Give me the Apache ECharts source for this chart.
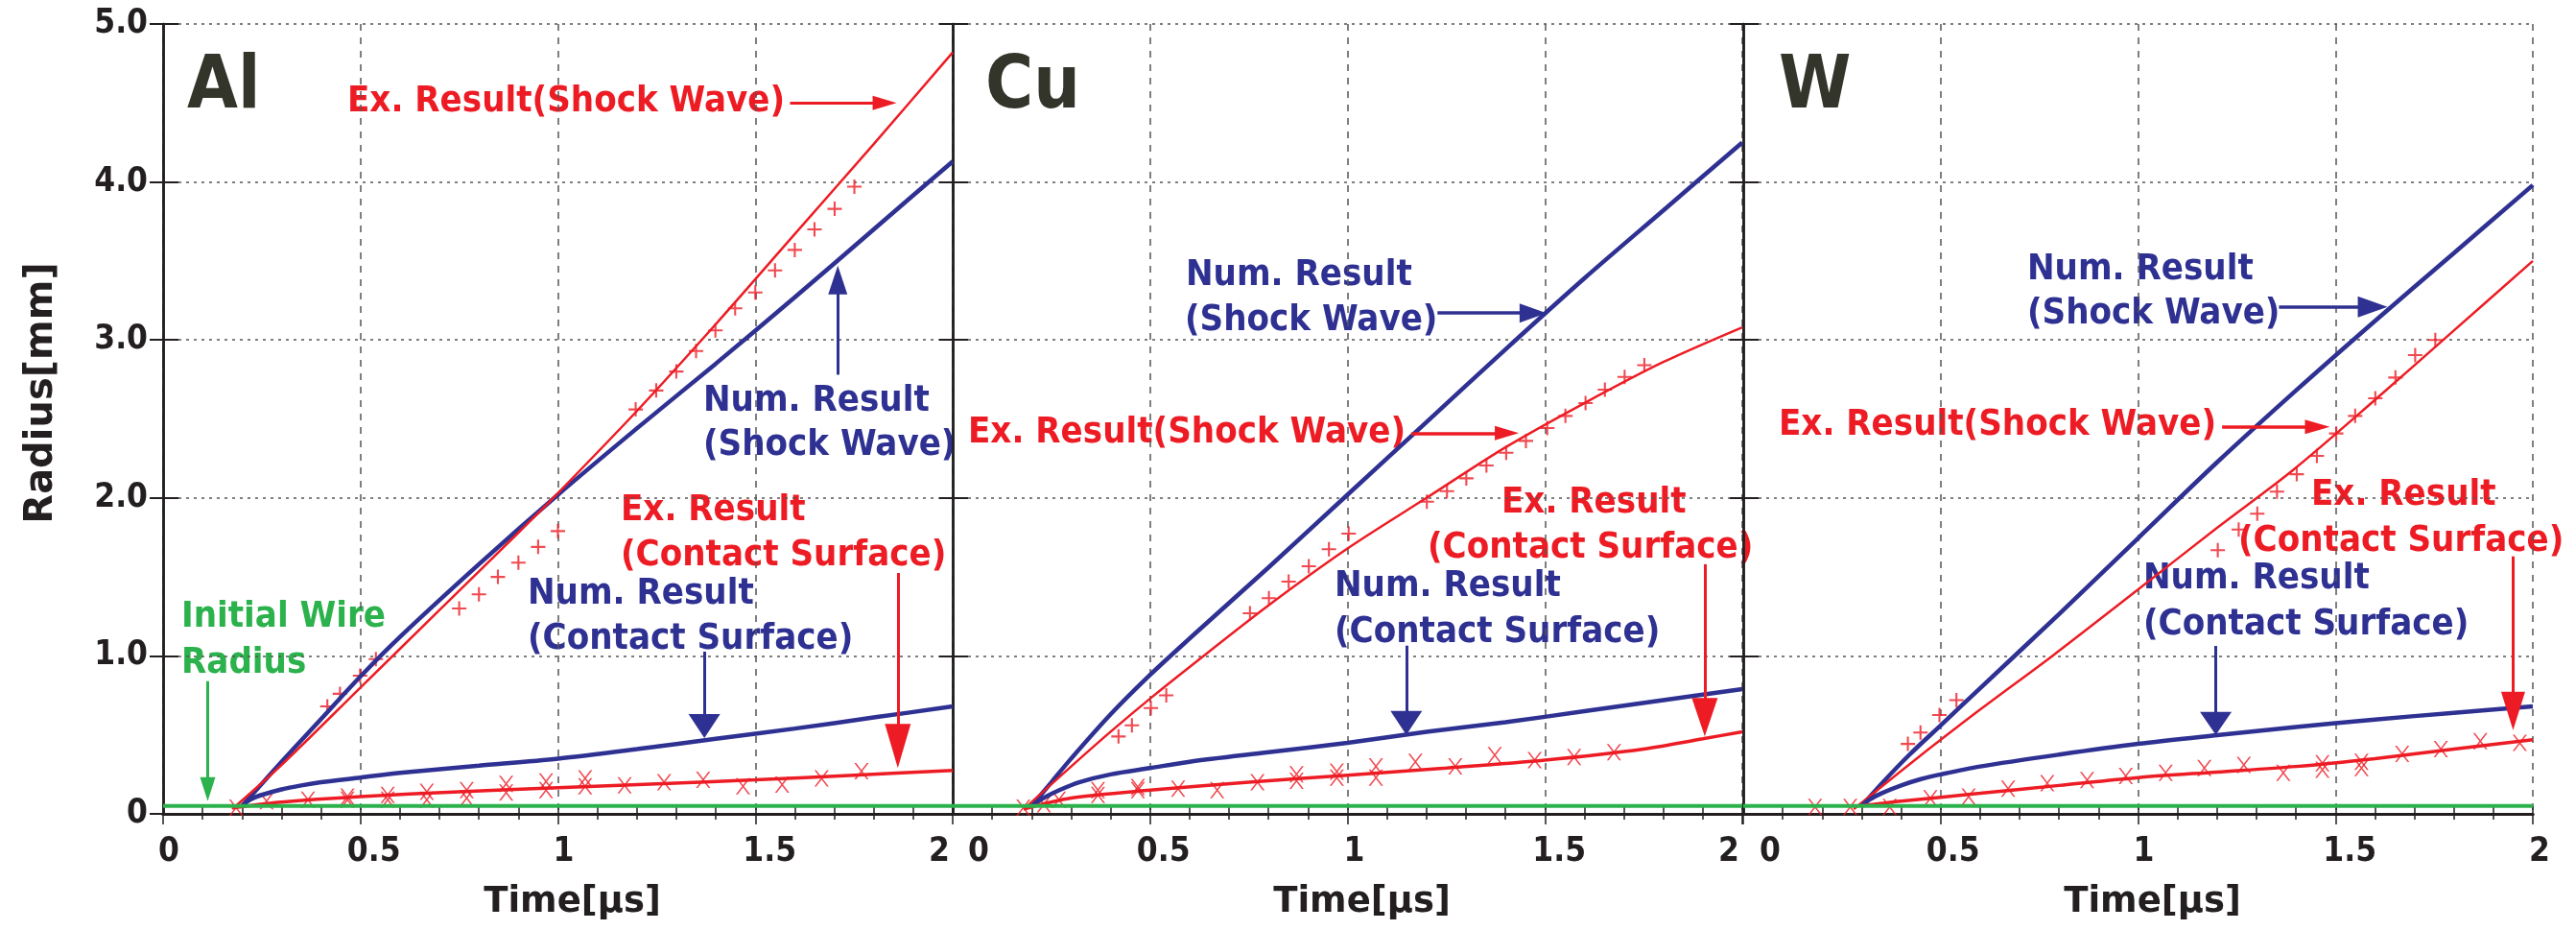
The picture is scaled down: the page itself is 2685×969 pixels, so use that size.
<!DOCTYPE html>
<html>
<head>
<meta charset="utf-8">
<title>Radius vs time: Al, Cu, W</title>
<script src="https://cdn.jsdelivr.net/npm/echarts@6.0.0/dist/echarts.min.js"></script>
<style>
  html, body { margin: 0; padding: 0; background: #fff; }
  #main { width: 2685px; height: 969px; }
</style>
</head>
<body>
<div id="main"></div>
<script>
;(function(){
	var FONT = "'DejaVu Sans Condensed', 'DejaVu Sans', sans-serif",
		WIDE = "'DejaVu Sans', sans-serif",
		BLUE = '#2e3192',
		RED = '#ed1c24',
		GREEN = '#2bb24c',
		INK = '#231f20';

	// axes
	var xTicks = [0, 0.5, 1, 1.5, 2];
	var yTicks = [0, 1, 2, 3, 4, 5];
	var initialWire = 0.05;
	var materials = ['Al', 'Cu', 'W'];

	// Al
	var alNumShock = [[0.2,0.05],[0.3,0.33],[0.4,0.6],[0.5,0.87],[0.6,1.12],[0.8,1.58],[1.0,2.02],[1.2,2.44],[1.4,2.85],[1.6,3.27],[1.8,3.7],[2.0,4.13]];
	var alExShock = [[0.175,0.03],[0.3,0.31],[0.5,0.8],[0.7,1.29],[0.9,1.78],[1.0,2.03],[1.2,2.55],[1.4,3.1],[1.6,3.67],[1.8,4.24],[2.0,4.82]];
	var alNumContact = [[0.2,0.05],[0.22,0.09],[0.25,0.12],[0.3,0.155],[0.35,0.18],[0.4,0.2],[0.5,0.23],[0.6,0.26],[0.8,0.305],[1.0,0.35],[1.2,0.41],[1.4,0.475],[1.6,0.54],[1.8,0.61],[2.0,0.68]];
	var alExContact = [[0.18,0.04],[0.3,0.075],[0.5,0.11],[0.75,0.14],[1.0,0.165],[1.25,0.19],[1.5,0.215],[1.75,0.245],[2.0,0.275]];
	var alShockPts = [[0.416,0.68],[0.448,0.76],[0.499,0.875],[0.539,0.98],[0.75,1.3],[0.8,1.39],[0.848,1.5],[0.9,1.59],[0.95,1.69],[1.0,1.79],[1.197,2.56],[1.249,2.68],[1.3,2.8],[1.35,2.93],[1.399,3.06],[1.449,3.2],[1.5,3.3],[1.55,3.44],[1.6,3.57],[1.65,3.7],[1.701,3.83],[1.751,3.97]];
	var alContactPts = [[0.185,0.04],[0.262,0.08],[0.367,0.09],[0.467,0.11],[0.467,0.09],[0.569,0.12],[0.569,0.09],[0.668,0.14],[0.668,0.09],[0.769,0.15],[0.769,0.1],[0.869,0.19],[0.869,0.135],[0.97,0.205],[0.97,0.15],[1.069,0.225],[1.069,0.175],[1.169,0.18],[1.269,0.2],[1.368,0.215],[1.469,0.175],[1.568,0.185],[1.668,0.225],[1.769,0.27]];

	// Cu
	var cuNumShock = [[0.2,0.05],[0.25,0.2],[0.3,0.35],[0.4,0.63],[0.5,0.88],[0.6,1.11],[0.8,1.56],[1.0,2.02],[1.2,2.48],[1.4,2.94],[1.6,3.39],[1.8,3.82],[2.0,4.25]];
	var cuExShock = [[0.18,0.03],[0.3,0.3],[0.4,0.52],[0.5,0.73],[0.6,0.93],[0.8,1.32],[1.0,1.68],[1.2,2.0],[1.4,2.32],[1.6,2.6],[1.8,2.86],[2.0,3.08]];
	var cuNumContact = [[0.2,0.05],[0.23,0.1],[0.27,0.15],[0.32,0.2],[0.4,0.25],[0.5,0.29],[0.6,0.33],[0.8,0.39],[1.0,0.45],[1.2,0.52],[1.4,0.58],[1.6,0.65],[1.8,0.72],[2.0,0.79]];
	var cuExContact = [[0.18,0.03],[0.3,0.1],[0.5,0.15],[0.75,0.2],[1.0,0.245],[1.25,0.29],[1.5,0.34],[1.75,0.41],[1.9,0.475],[2.0,0.52]];
	var cuShockPts = [[0.42,0.49],[0.454,0.56],[0.502,0.67],[0.541,0.75],[0.753,1.27],[0.801,1.365],[0.851,1.47],[0.902,1.567],[0.953,1.675],[1.003,1.774],[1.201,1.976],[1.252,2.043],[1.301,2.124],[1.352,2.205],[1.402,2.286],[1.452,2.361],[1.506,2.442],[1.552,2.519],[1.603,2.6],[1.652,2.685],[1.702,2.766],[1.752,2.84]];
	var cuContactPts = [[0.179,0.04],[0.231,0.06],[0.269,0.09],[0.368,0.15],[0.368,0.12],[0.469,0.17],[0.469,0.15],[0.571,0.16],[0.67,0.15],[0.772,0.2],[0.871,0.25],[0.871,0.21],[0.973,0.267],[0.973,0.23],[1.072,0.3],[1.072,0.23],[1.172,0.33],[1.273,0.3],[1.373,0.372],[1.474,0.34],[1.574,0.36],[1.675,0.39]];

	// W
	var wNumShock = [[0.3,0.05],[0.35,0.19],[0.42,0.372],[0.5,0.56],[0.6,0.795],[0.8,1.265],[1.0,1.745],[1.2,2.225],[1.4,2.68],[1.6,3.12],[1.8,3.55],[2.0,3.98]];
	var wExShock = [[0.28,0.03],[0.42,0.312],[0.6,0.66],[0.783,1.0],[1.0,1.42],[1.2,1.81],[1.392,2.175],[1.6,2.62],[1.8,3.06],[2.0,3.5]];
	var wNumContact = [[0.3,0.05],[0.32,0.09],[0.35,0.13],[0.4,0.18],[0.45,0.22],[0.5,0.25],[0.6,0.3],[0.8,0.375],[1.0,0.443],[1.2,0.498],[1.4,0.55],[1.6,0.597],[1.8,0.64],[2.0,0.68]];
	var wExContact = [[0.3,0.05],[0.4,0.08],[0.6,0.13],[0.8,0.18],[1.0,0.23],[1.2,0.265],[1.4,0.3],[1.6,0.35],[1.8,0.41],[2.0,0.47]];
	var wShockPts = [[0.417,0.443],[0.449,0.515],[0.497,0.626],[0.54,0.72],[1.202,1.669],[1.255,1.8],[1.302,1.9],[1.352,2.04],[1.402,2.15],[1.453,2.266],[1.502,2.408],[1.55,2.519],[1.601,2.631],[1.652,2.762],[1.702,2.904],[1.753,3.0]];
	var wContactPts = [[0.182,0.044],[0.271,0.044],[0.371,0.044],[0.474,0.099],[0.571,0.109],[0.671,0.16],[0.77,0.194],[0.871,0.214],[0.969,0.24],[1.07,0.26],[1.168,0.29],[1.268,0.31],[1.368,0.26],[1.467,0.32],[1.467,0.28],[1.566,0.33],[1.566,0.29],[1.669,0.38],[1.767,0.41],[1.867,0.46],[1.967,0.45]];

	// arrows: [x from, y from, x tip, y tip] in data units
	var alArrows = [[1.588,4.50,1.858,4.50],[1.709,2.78,1.709,3.47],[1.861,1.525,1.861,0.29],[1.371,1.027,1.371,0.48],[0.113,0.84,0.113,0.08]];
	var cuArrows = [[1.228,3.17,1.504,3.17],[1.162,2.41,1.434,2.41],[1.905,1.58,1.905,0.49],[1.149,1.065,1.149,0.50]];
	var wArrows = [[1.357,3.21,1.632,3.21],[1.213,2.45,1.486,2.45],[1.95,1.63,1.95,0.53],[1.197,1.063,1.197,0.50]];

	var panels = [
		{ numShock: alNumShock, exShock: alExShock, numContact: alNumContact, exContact: alExContact, shockPts: alShockPts, contactPts: alContactPts, arrows: alArrows },
		{ numShock: cuNumShock, exShock: cuExShock, numContact: cuNumContact, exContact: cuExContact, shockPts: cuShockPts, contactPts: cuContactPts, arrows: cuArrows },
		{ numShock: wNumShock, exShock: wExShock, numContact: wNumContact, exContact: wExContact, shockPts: wShockPts, contactPts: wContactPts, arrows: wArrows }
	];

	// arrow look per panel: colour, line width, head [width, length]
	var arrowStyle = [
		[[RED,3,[15,25]],[BLUE,3,[20,30]],[RED,3,[27,46]],[BLUE,3,[33,25]],[GREEN,3,[16,25]]],
		[[BLUE,3.5,[20,28]],[RED,3.5,[15,25]],[RED,3,[27,40]],[BLUE,3,[33,25]]],
		[[BLUE,3.5,[22,31]],[RED,3.5,[15,26]],[RED,3,[25,40]],[BLUE,3,[33,24]]]
	];

	// tick label nudges (px, + is right), the original labels sit a little off centre
	var labelShift = [[6,14,6,15,-14],[27,14,7,15,-14],[28,13,6,15,7]];

	// text annotations: text, left x, middle y, colour
	var notes = [
		['Ex. Result(Shock Wave)', 362, 106, RED],
		['Num. Result', 733, 418, BLUE], ['(Shock Wave)', 733, 464, BLUE],
		['Ex. Result', 647, 532, RED], ['(Contact Surface)', 647, 579, RED],
		['Num. Result', 550, 619, BLUE], ['(Contact Surface)', 550, 666, BLUE],
		['Initial Wire', 189, 643, GREEN], ['Radius', 189, 691, GREEN],
		['Num. Result', 1236, 287, BLUE], ['(Shock Wave)', 1235, 334, BLUE],
		['Ex. Result(Shock Wave)', 1009, 451, RED],
		['Ex. Result', 1565, 524, RED], ['(Contact Surface)', 1488, 571, RED],
		['Num. Result', 1391, 611, BLUE], ['(Contact Surface)', 1391, 659, BLUE],
		['Num. Result', 2113, 281, BLUE], ['(Shock Wave)', 2113, 327, BLUE],
		['Ex. Result(Shock Wave)', 1854, 443, RED],
		['Ex. Result', 2409, 516, RED], ['(Contact Surface)', 2333, 564, RED],
		['Num. Result', 2234, 603, BLUE], ['(Contact Surface)', 2234, 651, BLUE]
	];
	var tagPos = [[195, 92], [1027, 92], [1854, 92]];

	var PLUS = 'path://M4.3,0H5.7V10H4.3ZM0,4.3H10V5.7H0Z';
	var CROSS = 'path://M0,0H1.3L10,12H8.7ZM8.7,0H10L1.3,12H0Z';

	var gridLeft = [170, 993, 1817], gridW = 823, gridTop = 25, gridH = 823;

	var grids = [], xAxes = [], yAxes = [], series = [], graphics = [];

	panels.forEach(function(p, i){
		grids.push({ left: gridLeft[i], top: gridTop, width: gridW, height: gridH });

		var rich = {};
		xTicks.forEach(function(t, k){
			var s = labelShift[i][k];
			rich['s' + k] = {
				fontFamily: FONT, fontSize: 35, fontWeight: 'bold', color: INK,
				padding: s >= 0 ? [0, 0, 0, 2 * s] : [0, -2 * s, 0, 0]
			};
		});

		// bottom x axis
		xAxes.push({
			gridIndex: i, type: 'value', position: 'bottom',
			min: xTicks[0], max: xTicks[xTicks.length - 1], interval: 0.5,
			name: 'Time[\u03bcs]', nameLocation: 'middle', nameGap: 74,
			nameTextStyle: { fontFamily: WIDE, fontSize: 37, fontWeight: 'bold', color: INK, padding: [0, 0, 0, 30] },
			axisLine: { lineStyle: { color: INK, width: 3 } },
			axisTick: { inside: true, length: 8, lineStyle: { color: INK, width: 1.5 } },
			minorTick: { show: true, splitNumber: 5, length: 8, lineStyle: { color: INK, width: 1.5 } },
			axisLabel: {
				margin: 22, showMinLabel: true, showMaxLabel: true,
				formatter: function(v){ return '{s' + xTicks.indexOf(v) + '|' + v + '}'; },
				rich: rich
			},
			splitLine: { show: true, lineStyle: { color: '#555', width: 1.5, type: [7, 7] } }
		});
		// top x axis, frame only
		xAxes.push({
			gridIndex: i, type: 'value', position: 'top',
			min: xTicks[0], max: xTicks[xTicks.length - 1], interval: 0.5,
			axisLine: { lineStyle: { color: INK, width: 3 } },
			axisTick: { inside: true, length: 11, lineStyle: { color: INK, width: 1.5 } },
			minorTick: { show: true, splitNumber: 5, length: 6, lineStyle: { color: INK, width: 1.5 } },
			axisLabel: { show: false }, splitLine: { show: false }
		});
		// left y axis
		yAxes.push({
			gridIndex: i, type: 'value', position: 'left',
			min: yTicks[0], max: yTicks[yTicks.length - 1], interval: 1,
			name: i === 0 ? 'Radius[mm]' : '', nameLocation: 'middle', nameRotate: 90, nameGap: 106,
			nameTextStyle: { fontFamily: WIDE, fontSize: 40, fontWeight: 'bold', color: INK, padding: [0, 0, 0, 54] },
			axisLine: { lineStyle: { color: INK, width: 2.5 } },
			axisTick: { inside: true, length: 16, lineStyle: { color: INK, width: 2 } },
			axisLabel: {
				show: i === 0, margin: 16, fontFamily: FONT, fontSize: 35, fontWeight: 'bold', color: INK,
				formatter: function(v){ return v === 0 ? '0' : v.toFixed(1); }
			},
			splitLine: { show: true, lineStyle: { color: '#555', width: 1.5, type: [3, 5] } }
		});
		// right y axis, frame only
		yAxes.push({
			gridIndex: i, type: 'value', position: 'right',
			min: yTicks[0], max: yTicks[yTicks.length - 1], interval: 1,
			axisLine: { lineStyle: { color: INK, width: 2.5 } },
			axisTick: { inside: true, length: 14, lineStyle: { color: INK, width: 2 } },
			axisLabel: { show: false }, splitLine: { show: false }
		});

		var xi = i * 2, yi = i * 2;
		var line = function(data, color, width){
			return {
				type: 'line', xAxisIndex: xi, yAxisIndex: yi, data: data,
				showSymbol: false, smooth: 0.3, silent: true,
				lineStyle: { color: color, width: width }
			};
		};
		var marks = function(data, symbol, size){
			return {
				type: 'scatter', xAxisIndex: xi, yAxisIndex: yi, data: data,
				symbol: symbol, symbolSize: size, silent: true,
				itemStyle: { color: RED }
			};
		};
		series.push(line(p.numShock, BLUE, 4.5));
		series.push(line(p.exShock, RED, 2.5));
		series.push(line(p.numContact, BLUE, 4.5));
		series.push(line(p.exContact, RED, 3.5));
		series.push(marks(p.shockPts, PLUS, 15));
		series.push(marks(p.contactPts, CROSS, [15, 17]));
		series.push({
			type: 'line', xAxisIndex: xi, yAxisIndex: yi, silent: true,
			data: [[xTicks[0], initialWire], [xTicks[xTicks.length - 1], initialWire]],
			showSymbol: false, lineStyle: { color: GREEN, width: 4 }
		});

		graphics.push({
			type: 'text', x: tagPos[i][0], y: tagPos[i][1], silent: true,
			style: { text: materials[i], fill: '#33352a', fontFamily: FONT, fontSize: 76, fontWeight: 'bold',
				align: 'left', verticalAlign: 'middle', textAlign: 'left', textVerticalAlign: 'middle' }
		});
	});

	notes.forEach(function(n){
		graphics.push({
			type: 'text', x: n[1], y: n[2], silent: true,
			style: { text: n[0], fill: n[3], fontFamily: FONT, fontSize: 38, fontWeight: 'bold',
				align: 'left', verticalAlign: 'middle', textAlign: 'left', textVerticalAlign: 'middle' }
		});
	});

	var chart = echarts.init(document.getElementById('main'));
	chart.setOption({
		animation: false,
		backgroundColor: '#fff',
		textStyle: { fontFamily: FONT },
		grid: grids, xAxis: xAxes, yAxis: yAxes, series: series, graphic: graphics
	});

	// arrows: pull the line end back by half the head so the tip lands on the target
	var arrowSeries = [];
	panels.forEach(function(p, i){
		var finder = { xAxisIndex: i * 2, yAxisIndex: i * 2 };
		var items = p.arrows.map(function(a, k){
			var st = arrowStyle[i][k];
			var p0 = chart.convertToPixel(finder, [a[0], a[1]]);
			var p1 = chart.convertToPixel(finder, [a[2], a[3]]);
			var dx = p1[0] - p0[0], dy = p1[1] - p0[1], len = Math.sqrt(dx * dx + dy * dy);
			var back = st[2][1] / 2;
			var end = chart.convertFromPixel(finder, [p1[0] - dx / len * back, p1[1] - dy / len * back]);
			var ls = { color: st[0], width: st[1], type: 'solid' };
			return [
				{ coord: [a[0], a[1]], symbol: 'none', lineStyle: ls },
				{ coord: end, symbol: 'triangle', symbolSize: st[2], lineStyle: ls }
			];
		});
		arrowSeries.push({
			type: 'line', xAxisIndex: i * 2, yAxisIndex: i * 2, data: [], silent: true,
			markLine: {
				silent: true, animation: false, symbol: ['none', 'triangle'],
				label: { show: false }, emphasis: { disabled: true },
				data: items
			}
		});
	});
	chart.setOption({ series: series.concat(arrowSeries) });
}());
</script>
</body>
</html>
